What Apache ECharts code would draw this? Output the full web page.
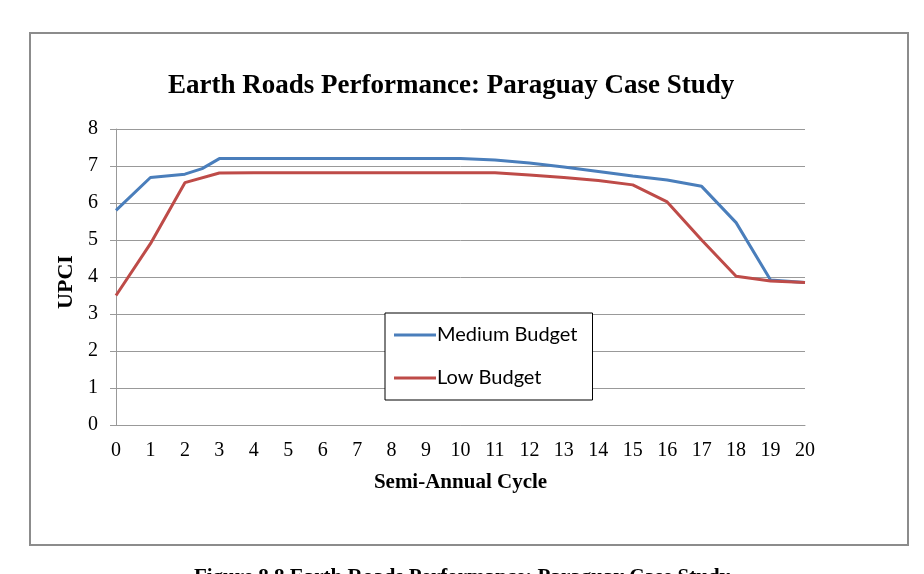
<!DOCTYPE html>
<html>
<head>
<meta charset="utf-8">
<script src="https://cdn.jsdelivr.net/npm/echarts@6/dist/echarts.min.js"></script>
<style>
  html, body { margin: 0; padding: 0; background: #fff; }
  #main { width: 924px; height: 574px; }
</style>
</head>
<body>
<div id="main"></div>
<script>
// x positions (semi-annual cycle); medium has an extra bend between 2 and 3
var cycleMedium = [0, 1, 2, 2.5, 3, 4, 5, 6, 7, 8, 9, 10, 11, 12, 13, 14, 15, 16, 17, 18, 19, 20];
var upciMedium = [5.8, 6.69, 6.78, 6.93, 7.2, 7.2, 7.2, 7.2, 7.2, 7.2, 7.2, 7.2, 7.16, 7.08, 6.97, 6.85, 6.73, 6.62, 6.45, 5.47, 3.92, 3.85];
var cycleLow = [0, 1, 2, 3, 4, 5, 6, 7, 8, 9, 10, 11, 12, 13, 14, 15, 16, 17, 18, 19, 20];
var upciLow = [3.5, 4.9, 6.55, 6.81, 6.82, 6.82, 6.82, 6.82, 6.82, 6.82, 6.82, 6.82, 6.76, 6.69, 6.61, 6.49, 6.03, 5.0, 4.02, 3.89, 3.85];

function pairs(xs, ys) {
    var out = [];
    for (var i = 0; i < xs.length; i++) {
        out.push([xs[i], ys[i]]);
    }
    return out;
}

var serif = '"Liberation Serif", "DejaVu Serif", serif';
var chart = echarts.init(document.getElementById('main'));
var option = {
    animation: false,
    backgroundColor: '#fff',
    title: {
        text: 'Earth Roads Performance: Paraguay Case Study',
        left: 163,
        top: 68,
        textStyle: {
            fontFamily: serif,
            fontSize: 27,
            fontWeight: 'bold',
            color: '#000'
        }
    },
    legend: {
        orient: 'vertical',
        left: 385,
        top: 313,
        padding: [12, 15, 12, 9],
        itemGap: 23,
        itemWidth: 42,
        itemHeight: 3,
        icon: 'rect',
        borderColor: '#000',
        borderWidth: 1,
        backgroundColor: '#fff',
        textStyle: {
            fontFamily: 'Lato, "Open Sans", sans-serif',
            fontSize: 20,
            lineHeight: 20,
            color: '#000',
            padding: [0, 0, 0, -4]
        },
        data: ['Medium Budget', 'Low Budget']
    },
    grid: {
        left: 116,
        right: 119,
        top: 129,
        bottom: 149
    },
    xAxis: {
        type: 'value',
        min: 0,
        max: 20,
        interval: 1,
        name: 'Semi-Annual Cycle',
        nameLocation: 'middle',
        nameGap: 47,
        nameTextStyle: {
            fontFamily: serif,
            fontSize: 21,
            fontWeight: 'bold',
            color: '#000'
        },
        axisLine: { lineStyle: { color: '#999', width: 1 } },
        axisTick: { show: false },
        splitLine: { show: false },
        axisLabel: {
            fontFamily: serif,
            fontSize: 20,
            color: '#000',
            margin: 16
        }
    },
    yAxis: {
        type: 'value',
        min: 0,
        max: 8,
        interval: 1,
        name: 'UPCI',
        nameLocation: 'middle',
        nameGap: 36,
        nameTextStyle: {
            fontFamily: serif,
            fontSize: 22,
            fontWeight: 'bold',
            color: '#000',
            padding: [0, 10, 0, 0]
        },
        axisLine: { show: true, lineStyle: { color: '#999', width: 1 } },
        axisTick: { show: true, length: 6, lineStyle: { color: '#999' } },
        splitLine: { lineStyle: { color: '#999', width: 1 } },
        axisLabel: {
            fontFamily: serif,
            fontSize: 20,
            color: '#000',
            margin: 18
        }
    },
    series: [
        {
            name: 'Medium Budget',
            type: 'line',
            data: pairs(cycleMedium, upciMedium),
            symbol: 'none',
            color: '#4a7ebb',
            lineStyle: { width: 3, color: '#4a7ebb' }
        },
        {
            name: 'Low Budget',
            type: 'line',
            data: pairs(cycleLow, upciLow),
            symbol: 'none',
            color: '#be4b48',
            lineStyle: { width: 3, color: '#be4b48' }
        }
    ],
    graphic: [
        {
            type: 'rect',
            shape: { x: 30, y: 33, width: 878, height: 512 },
            style: { fill: 'none', stroke: '#8c8c8c', lineWidth: 2 },
            silent: true,
            z: -1
        },
        {
            type: 'text',
            left: 'center',
            top: 567,
            style: {
                text: 'Figure 8.8 Earth Roads Performance: Paraguay Case Study',
                fontFamily: serif,
                fontSize: 21,
                fontWeight: 'bold',
                fill: '#000'
            }
        }
    ]
};
chart.setOption(option);
</script>
</body>
</html>
